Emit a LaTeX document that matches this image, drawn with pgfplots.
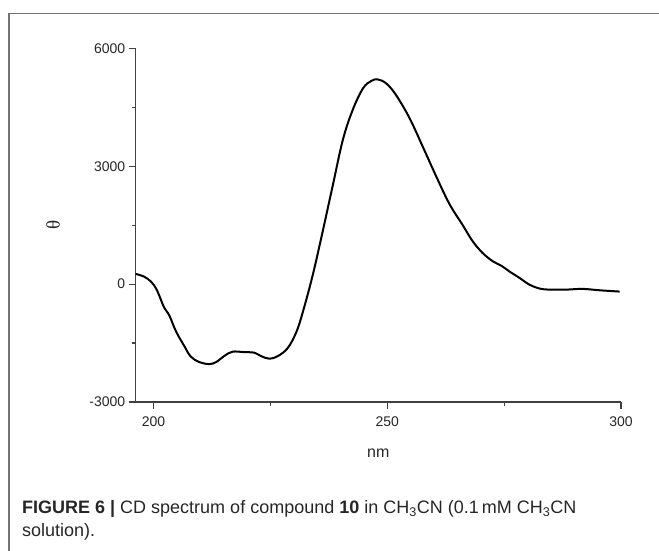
\documentclass[border=0pt]{standalone}
\usepackage{fontspec}
\setmainfont{Liberation Sans}
\newfontfamily\seriffont{Liberation Serif}
\usepackage{pgfplots}
\pgfplotsset{compat=1.18}
\pgfplotstableread{
nm val
196.2 259
198.0 190
199.5 60
200.6 -120
201.4 -340
202.3 -600
203.4 -800
204.8 -1198
206.6 -1578
208.0 -1847
209.8 -1984
211.9 -2035
213.4 -1984
215.1 -1832
216.9 -1720
219.4 -1731
221.6 -1746
223.0 -1832
224.8 -1898
226.6 -1832
228.7 -1629
230.5 -1238
231.9 -731
234.0 198
235.8 1129
238.3 2482
240.5 3667
242.6 4428
244.8 4978
246.6 5171
248.0 5207
249.8 5105
251.9 4808
254.8 4217
257.6 3497
260.5 2735
263.3 2040
266.2 1490
268.3 1086
270.4 792
272.6 579
274.4 469
276.1 325
278.3 157
280.4 -13
282.6 -114
284.7 -140
288.3 -140
291.8 -122
295.4 -157
299.7 -190
}\cdspec
\begin{document}
\begin{tikzpicture}[x=1pt,y=1pt]
\path[use as bounding box] (0,0) rectangle (659,550);
\draw[line width=1.5pt, color=black!55] (9,-10) -- (9,536.5) -- (680,536.5);
\begin{axis}[
  at={(135.7pt,148pt)}, anchor=south west,
  scale only axis, width=485.3pt, height=353.7pt,
  xmin=196.2, xmax=300, ymin=-3000, ymax=6000,
  axis lines*=left,
  axis line style={line width=1.4pt, color=black!75},
  xtick={200,250,300}, xticklabels={200,250,300},
  minor xtick={225,275},
  ytick={-3000,0,3000,6000}, yticklabels={-3000,0,3000,6000},
  minor ytick={-1500,1500,4500},
  tick align=outside,
  major tick length=7pt, minor tick length=4pt,
  every tick/.style={line width=1.2pt, color=black!75},
  ticklabel style={font=\fontsize{14}{16}\selectfont, color=black!85},
  xticklabel style={yshift=-4pt},
  xlabel={nm},
  xlabel style={at={(axis description cs:0.5,-0.1442)}, anchor=center, font=\fontsize{16}{18}\selectfont, color=black!85},
  ylabel={\seriffont θ},
  ylabel style={at={(axis description cs:-0.1704,0.5)}, anchor=center, font=\fontsize{19}{21}\selectfont, color=black!85},
]
\addplot[black, line width=2pt, smooth, tension=0.6] table[x=nm, y=val] {\cdspec};
\end{axis}
\node[anchor=base west, inner sep=0, font=\fontsize{18}{22}\selectfont, color=black!85] at (22,36.7) {\textbf{FIGURE 6 |} CD spectrum of compound \textbf{10} in CH\textsubscript{3}CN (0.1\,mM CH\textsubscript{3}CN};
\node[anchor=base west, inner sep=0, font=\fontsize{18}{22}\selectfont, color=black!85] at (22,13.3) {solution).};
\end{tikzpicture}
\end{document}
